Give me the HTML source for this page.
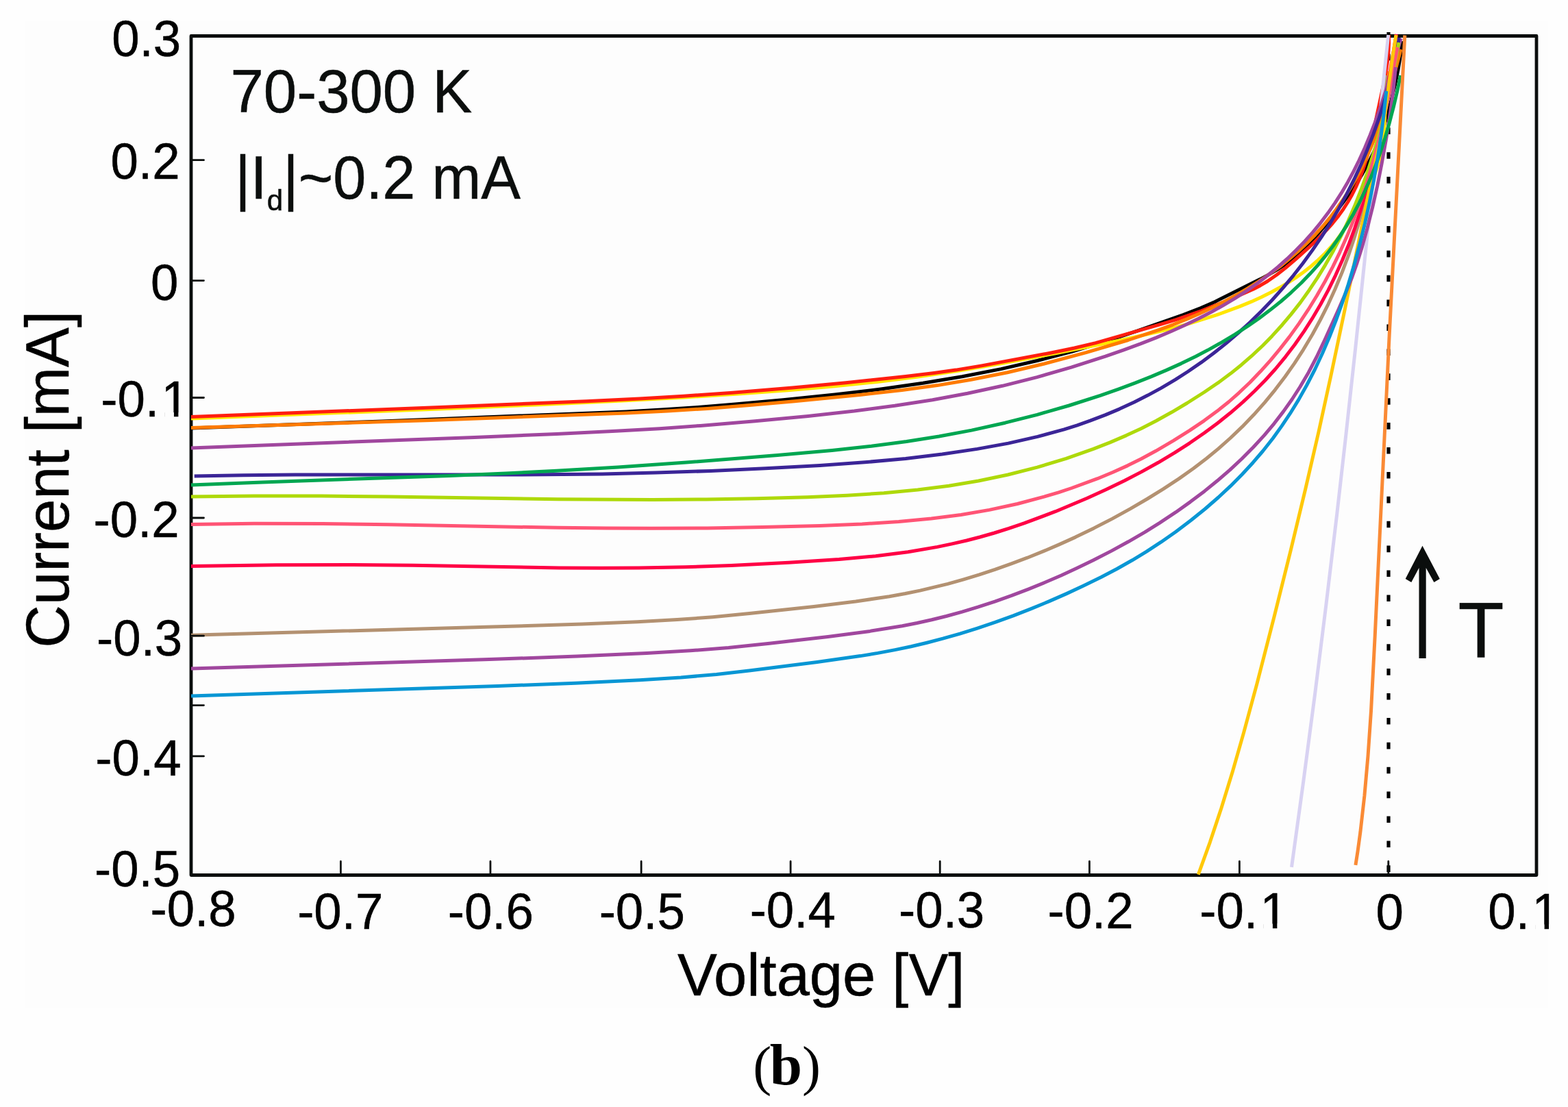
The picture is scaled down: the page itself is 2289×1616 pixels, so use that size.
<!DOCTYPE html>
<html><head><meta charset="utf-8"><title>I-V curves</title>
<style>html,body{margin:0;padding:0;background:#fefefe;overflow:hidden}svg{display:block}</style>
</head><body>
<svg xmlns="http://www.w3.org/2000/svg" width="2289" height="1616" viewBox="0 0 2289 1616"><defs><clipPath id="k1_0"><path clip-rule="evenodd" d="M-20 -90H200V30H-20Z M95.91 -6.20H109.84V2H95.91Z M116.46 -6.20H129.81V2H116.46Z"/></clipPath><clipPath id="k1_1"><path clip-rule="evenodd" d="M-20 -90H200V30H-20Z M95.91 -6.20H109.84V2H95.91Z M116.46 -6.20H129.81V2H116.46Z"/></clipPath><clipPath id="k1_2"><path clip-rule="evenodd" d="M-20 -90H200V30H-20Z M70.97 -6.20H84.90V2H70.97Z M91.52 -6.20H104.86V2H91.52Z"/></clipPath></defs>
<rect x="37" y="30" width="2223" height="1441" fill="#fdfdfd"/>
<rect x="279" y="52.5" width="1964" height="1225" fill="none" stroke="#0b0e0d" stroke-width="4.8" stroke-linejoin="round"/>
<line x1="2027" y1="47" x2="2027" y2="1276" stroke="#000" stroke-width="5.2" stroke-dasharray="9.6 26.3" stroke-dashoffset="4.3"/>
<g fill="none" stroke-width="5" stroke-linecap="butt" stroke-linejoin="round"><path d="M279.0 625.0L558.5 615.0 914.2 600.9 966.0 598.1 1015.9 594.7 1073.6 590.0 1143.2 583.8 1218.7 576.1 1286.0 568.0 1347.3 559.3 1404.5 549.7 1461.4 538.6 1514.1 526.5 1564.5 513.3 1614.4 498.3 1660.0 483.2 1727.3 459.5 1753.1 449.6 1773.2 440.7 1839.6 407.6 1851.7 401.1 1863.6 394.2 1875.1 386.6 1886.4 378.1 1898.7 367.4 1910.4 356.0 1924.2 341.2 1938.2 324.7 1954.0 304.6 1969.3 283.8 1979.5 268.9 1988.9 253.6 1997.7 237.9 2005.6 221.7 2012.6 205.2 2018.8 188.5 2024.7 169.5 2031.0 146.4 2036.7 123.0 2041.1 101.4 2044.7 79.7 2047.0 60.0" stroke="#000000"/><path d="M279.0 611.0L640.5 597.0 782.4 590.9 904.1 585.2 995.9 580.2 1077.6 575.1 1153.3 569.6 1218.9 563.8 1280.5 557.4 1340.1 550.0 1397.5 541.5 1460.8 530.8 1543.5 515.4 1639.2 496.0 1691.5 484.1 1714.6 478.3 1737.6 471.9 1775.7 459.9 1809.8 447.4 1826.7 440.4 1841.4 433.7 1855.9 426.5 1868.2 419.8 1880.3 412.7 1892.0 405.1 1903.3 397.0 1914.1 388.5 1924.5 379.4 1934.4 369.8 1943.7 359.7 1951.2 350.5 1959.4 339.3 1968.2 326.0 1977.5 310.4 1990.6 287.5 1997.3 275.0 2003.4 262.3 2008.0 251.3 2011.9 240.2 2014.5 230.8 2016.5 221.4 2019.3 202.1 2021.0 182.3 2024.1 129.5 2026.5 104.0" stroke="#ffe600"/><path d="M279.0 608.5L642.5 594.5 856.1 585.7 933.9 582.1 997.8 578.3 1069.5 573.2 1157.1 566.0 1234.7 558.8 1322.0 549.4 1363.7 544.4 1395.4 540.1 1433.0 533.9 1533.3 515.2 1568.5 508.0 1599.5 500.6 1695.4 473.2 1716.3 466.9 1753.8 453.8 1796.5 436.8 1829.4 422.3 1840.0 416.7 1850.4 410.5 1863.7 401.3 1876.4 391.4 1891.6 378.4 1912.2 359.8 1925.1 347.6 1936.1 336.3 1945.3 326.0 1954.0 315.1 1961.1 305.2 1967.6 295.0 1973.7 284.4 1979.1 273.6 1984.0 262.7 1988.3 251.6 1992.7 238.6 1996.7 225.4 2005.1 190.8 2019.1 126.0 2023.0 106.2 2025.4 90.4 2026.9 76.6 2027.6 62.8 2027.4 51.0" stroke="#ff1e10"/><path d="M279.0 927.2L718.5 915.1 850.3 910.9 930.5 907.8 988.6 904.6 1040.6 900.7 1096.5 895.3 1188.0 885.4 1249.2 878.0 1298.2 870.7 1321.6 866.5 1343.0 862.1 1383.6 852.4 1406.7 845.9 1429.7 838.9 1452.5 831.4 1477.1 822.7 1499.7 814.2 1524.0 804.4 1546.2 794.9 1570.0 784.1 1597.1 770.9 1623.9 757.1 1650.2 742.6 1674.4 728.5 1698.1 713.9 1721.3 698.6 1742.3 683.8 1761.3 669.3 1778.2 655.4 1796.1 639.5 1813.5 622.9 1830.2 605.6 1846.2 587.6 1861.4 569.1 1875.9 550.0 1889.7 530.4 1902.7 510.3 1916.0 488.0 1927.4 467.0 1939.1 443.8 1949.0 422.0 1959.0 398.0 1968.2 373.7 1976.5 349.0 1984.1 324.1 1991.3 297.1 1997.8 269.8 2003.6 242.3 2009.1 212.7 2014.0 183.1 2018.6 151.4 2024.0 110.0" stroke="#b39171"/><path d="M279.0 826.4L403.3 824.7 515.1 824.4 602.8 825.2 816.3 828.9 876.4 829.3 932.6 829.0 1000.9 827.8 1067.2 825.4 1151.2 821.2 1224.9 816.5 1278.3 811.7 1325.5 805.7 1368.5 798.4 1389.9 793.9 1411.2 789.0 1430.5 784.0 1451.6 778.0 1472.7 771.4 1495.5 763.7 1540.7 746.7 1587.0 727.2 1614.4 714.8 1641.4 701.7 1666.2 688.9 1690.7 675.3 1714.8 660.9 1736.7 646.8 1758.1 632.0 1777.4 617.7 1796.1 602.8 1814.2 587.1 1831.6 570.8 1846.9 555.2 1861.6 539.0 1876.8 520.6 1890.0 503.2 1903.7 483.6 1915.5 465.2 1927.7 444.5 1939.1 423.4 1949.7 401.8 1959.6 379.8 1969.4 355.7 1977.7 333.1 1985.9 308.3 1992.1 287.2 1998.3 264.0 2004.3 238.8 2009.7 213.4 2019.3 162.3 2038.5 50.0" stroke="#ff0045"/><path d="M1885.5 1265.9L1902.7 1141.2 1919.7 1012.4 1935.8 883.5 1951.7 750.5 1964.8 635.3 1978.7 508.2 2026.7 51.0" stroke="#d8d2f2"/><path d="M279.0 624.5L628.7 613.4 914.8 603.0 974.7 600.0 1032.6 596.4 1094.4 591.6 1160.0 585.8 1257.3 576.2 1316.8 569.6 1368.2 562.6 1417.5 554.3 1470.6 543.7 1523.4 531.3 1585.5 514.6 1646.9 496.5 1692.2 481.4 1712.8 473.8 1731.2 466.4 1751.3 457.7 1769.3 449.3 1787.1 440.3 1804.6 430.8 1821.9 420.7 1837.1 411.1 1853.7 399.8 1868.2 389.2 1882.3 377.9 1896.0 366.2 1909.1 353.8 1920.2 342.4 1930.9 330.5 1941.1 318.2 1950.8 305.5 1961.1 290.8 1969.7 277.4 1978.8 261.9 1986.3 247.8 1994.1 231.7 2000.6 217.1 2006.6 202.3 2012.7 185.4 2018.4 168.4 2029.7 130.0 2045.0 72.0" stroke="#ff7b00"/><path d="M279.0 654.0L692.6 638.4 812.7 633.4 898.7 629.3 962.7 625.7 1022.5 621.4 1102.2 614.7 1179.7 607.4 1247.0 600.1 1306.2 592.3 1361.4 583.7 1412.4 574.3 1463.3 563.3 1513.8 550.6 1564.0 536.2 1613.8 520.2 1640.4 510.9 1664.9 501.9 1687.3 493.1 1709.5 483.8 1729.5 474.8 1749.3 465.3 1768.7 455.3 1786.0 445.6 1803.1 435.4 1819.7 424.6 1836.0 413.2 1850.3 402.3 1865.7 389.7 1879.1 377.7 1892.0 365.3 1904.5 352.5 1916.4 339.1 1927.7 325.3 1938.5 311.1 1948.8 296.4 1958.4 281.4 1967.5 265.9 1976.0 250.1 1984.0 234.0 1992.4 215.7 2000.1 197.1 2007.4 178.3 2014.9 157.4 2029.0 113.3 2045.2 56.0" stroke="#a0479e"/><path d="M283.7 695.0L355.4 693.7 431.2 693.0 743.2 693.1 879.4 691.9 957.5 690.1 1037.5 687.4 1117.3 683.8 1197.0 679.4 1262.5 674.8 1322.0 669.4 1375.4 663.0 1426.7 655.4 1471.9 647.1 1514.8 637.4 1553.4 626.8 1572.5 620.8 1591.4 614.2 1613.8 605.6 1634.1 597.1 1655.9 587.0 1675.5 577.1 1694.8 566.6 1715.5 554.4 1734.0 542.5 1753.8 528.9 1771.5 515.8 1790.3 500.9 1807.0 486.7 1824.8 470.6 1841.9 453.8 1857.1 438.0 1873.1 420.1 1888.4 401.8 1901.9 384.5 1916.0 365.1 1929.5 345.3 1942.3 325.1 1954.4 304.4 1965.9 283.4 1976.7 262.0 1986.8 240.2 1996.2 218.2 2004.9 195.8 2012.9 173.2 2020.2 150.3 2026.8 127.2 2032.7 104.0 2037.8 80.5 2042.6 55.0" stroke="#3b2597"/><path d="M279.0 725.0L371.1 723.9 469.0 724.0 566.9 725.0 814.4 728.8 952.6 729.6 1030.7 729.0 1104.8 727.8 1178.7 725.7 1236.5 723.2 1290.2 719.8 1339.7 715.1 1385.1 709.3 1428.4 702.0 1471.4 693.0 1514.2 682.1 1556.4 669.4 1596.1 655.4 1620.4 645.9 1644.3 635.6 1666.1 625.4 1687.5 614.5 1710.4 601.8 1732.8 588.5 1758.0 572.5 1779.2 558.1 1796.7 545.1 1812.1 532.7 1827.1 519.7 1843.1 504.7 1857.1 490.4 1871.8 474.2 1884.7 458.9 1898.3 441.6 1911.1 423.7 1923.3 405.4 1934.8 386.6 1946.7 365.7 1957.7 344.4 1968.0 322.7 1977.6 300.6 1987.1 276.5 1995.3 254.0 2003.4 229.3 2010.8 204.4 2018.1 177.4 2024.7 150.2 2030.7 122.9 2036.5 93.5 2042.0 62.0" stroke="#aed90a"/><path d="M279.0 765.5L371.1 764.3 471.0 764.6 566.8 765.8 814.4 770.3 884.4 771.1 950.5 771.3 1032.6 770.9 1112.7 769.6 1196.6 767.4 1258.4 764.9 1312.0 761.5 1359.5 757.1 1402.9 751.5 1444.2 744.4 1485.3 735.5 1524.1 725.2 1545.3 718.8 1564.4 712.5 1602.1 698.7 1624.3 689.5 1646.3 679.6 1666.1 669.8 1687.3 658.3 1713.2 643.1 1736.7 628.4 1757.9 614.1 1776.9 600.1 1793.9 586.5 1808.8 573.3 1824.7 558.2 1840.0 542.3 1854.8 525.9 1868.9 508.9 1882.4 491.6 1896.4 472.1 1909.7 452.2 1922.3 431.8 1934.2 411.0 1945.4 389.9 1955.9 368.3 1966.5 344.6 1975.6 322.4 1984.8 298.1 1993.1 273.4 2000.8 248.6 2008.4 221.6 2015.3 194.4 2021.5 167.0 2027.6 137.7 2040.0 69.0" stroke="#ff5475"/><path d="M1749.3 1276.7L1766.4 1229.3 1782.9 1179.8 1799.3 1126.4 1815.8 1068.9 1835.0 997.8 1860.3 899.4 1884.4 802.6 1905.9 713.2 1924.8 631.3 1942.7 549.3 1963.7 449.5 1996.5 288.7 2015.0 204.3 2021.8 165.0 2032.7 84.5 2038.0 51.0" stroke="#ffc808"/><path d="M279.0 976.1L714.4 962.6 842.2 958.0 944.0 953.5 1007.8 949.8 1063.6 945.4 1123.3 939.3 1208.7 929.4 1270.0 921.4 1317.2 913.7 1338.7 909.5 1360.1 904.8 1381.4 899.5 1404.6 893.1 1427.6 886.2 1452.3 878.1 1476.8 869.4 1501.2 860.1 1525.3 850.3 1549.2 840.0 1572.8 829.1 1596.1 817.8 1622.7 804.1 1647.1 790.8 1671.2 776.8 1693.2 763.1 1716.5 747.7 1737.7 732.6 1758.5 716.9 1777.1 701.8 1795.3 686.1 1812.8 669.7 1829.7 652.7 1845.9 635.1 1860.0 618.3 1873.4 600.9 1886.1 583.0 1898.0 564.5 1910.1 543.9 1922.1 521.0 1934.1 495.8 1953.1 453.9 1964.3 428.1 1973.3 405.8 1980.6 385.2 1987.8 362.5 1995.8 333.8 2003.6 302.9 2010.6 271.7 2017.2 238.3 2023.9 200.8 2029.7 163.2 2034.2 129.6 2037.5 98.0" stroke="#a0479e"/><path d="M279.0 708.0L382.8 703.9 656.6 694.4 738.5 691.0 812.4 687.3 902.2 681.9 1001.8 675.0 1135.1 664.6 1214.6 657.5 1272.0 651.3 1323.5 644.5 1370.9 637.0 1418.3 628.1 1467.4 617.2 1514.2 605.3 1560.6 592.0 1606.3 577.3 1632.7 568.1 1656.9 559.1 1680.9 549.6 1702.7 540.4 1724.4 530.6 1745.7 520.2 1765.0 510.1 1784.1 499.4 1802.9 488.1 1821.4 476.2 1838.0 464.7 1854.1 452.6 1869.9 440.0 1885.0 426.8 1899.6 413.0 1912.1 400.1 1924.0 386.8 1935.4 373.0 1946.2 358.8 1956.4 344.2 1966.0 329.1 1976.0 311.9 1984.3 296.1 1992.9 278.1 2000.9 259.8 2008.3 241.1 2015.1 222.2 2021.9 201.2 2028.1 180.0 2034.2 156.7 2039.7 133.3 2044.5 110.0" stroke="#00a651"/><path d="M279.0 1016.0L726.2 1001.5 840.0 997.2 933.9 992.8 993.9 989.0 1045.9 984.4 1093.7 979.0 1192.9 966.5 1255.9 957.6 1281.4 953.4 1306.7 948.6 1330.0 943.7 1353.2 938.2 1376.4 932.2 1401.3 925.1 1426.1 917.3 1452.7 908.4 1479.1 898.8 1505.3 888.6 1531.3 877.9 1557.0 866.6 1582.4 854.8 1607.5 842.5 1630.4 830.5 1652.9 817.8 1673.4 805.4 1695.1 791.2 1716.5 776.2 1738.9 759.3 1759.1 743.0 1778.7 726.0 1796.2 709.7 1813.0 692.8 1829.2 675.2 1843.5 658.5 1858.3 639.7 1871.1 621.9 1883.3 603.7 1895.8 583.4 1907.5 562.5 1919.4 539.5 1930.4 516.0 1940.7 492.1 1950.2 467.9 1959.7 441.5 1968.4 414.8 1977.0 386.0 1984.8 357.0 1992.5 326.0 1999.3 294.9 2005.5 263.6 2010.9 232.1 2016.0 198.6 2020.1 166.9 2023.8 133.0" stroke="#0896d4"/><path d="M1978.9 1262.8L1982.0 1243.0 1985.8 1215.2 1991.9 1161.5 1997.0 1103.8 2001.5 1038.1 2007.2 928.4 2028.0 492.9 2050.8 51.5" stroke="#fa8a35"/></g>
<path d="M279 233.7H297.5M279 409.6H297.5M279 580.5H297.5M279 756.0H297.5M279 928.2H297.5M279 1029.6H297.5M279 1103.9H297.5M497.4 1277.5V1257.5M715.9 1277.5V1257.5M936.1 1277.5V1257.5M1154.1 1277.5V1257.5M1372.2 1277.5V1257.5M1590.4 1277.5V1257.5M1809.4 1277.5V1257.5M2026.8 1277.5V1257.5" stroke="#0b0e0d" stroke-width="2.8" stroke-linecap="round" fill="none"/>
<text transform="translate(163.16 81.80) scale(0.9700 1)" font-family="'Liberation Sans',Arial,sans-serif" font-size="74.90" fill="#000" stroke="#000" stroke-width="0.5">0.3</text>
<text transform="translate(161.56 260.60) scale(0.9700 1)" font-family="'Liberation Sans',Arial,sans-serif" font-size="74.90" fill="#000" stroke="#000" stroke-width="0.5">0.2</text>
<text transform="translate(220.06 437.50) scale(0.9700 1)" font-family="'Liberation Sans',Arial,sans-serif" font-size="74.90" fill="#000" stroke="#000" stroke-width="0.5">0</text>
<text clip-path="url(#k1_0)" transform="translate(147.37 608.20) scale(0.9700 1)" font-family="'Liberation Sans',Arial,sans-serif" font-size="74.90" fill="#000" stroke="#000" stroke-width="0.5">-0.<tspan dx="3.6">1</tspan></text>
<text transform="translate(136.57 783.70) scale(0.9700 1)" font-family="'Liberation Sans',Arial,sans-serif" font-size="74.90" fill="#000" stroke="#000" stroke-width="0.5">-0.2</text>
<text transform="translate(141.07 956.50) scale(0.9700 1)" font-family="'Liberation Sans',Arial,sans-serif" font-size="74.90" fill="#000" stroke="#000" stroke-width="0.5">-0.3</text>
<text transform="translate(139.37 1131.80) scale(0.9700 1)" font-family="'Liberation Sans',Arial,sans-serif" font-size="74.90" fill="#000" stroke="#000" stroke-width="0.5">-0.4</text>
<text transform="translate(137.97 1293.60) scale(0.9700 1)" font-family="'Liberation Sans',Arial,sans-serif" font-size="74.90" fill="#000" stroke="#000" stroke-width="0.5">-0.5</text>
<text transform="translate(219.57 1352.20) scale(0.9700 1)" font-family="'Liberation Sans',Arial,sans-serif" font-size="74.90" fill="#000" stroke="#000" stroke-width="0.5">-0.8</text>
<text transform="translate(434.17 1355.60) scale(0.9700 1)" font-family="'Liberation Sans',Arial,sans-serif" font-size="74.90" fill="#000" stroke="#000" stroke-width="0.5">-0.7</text>
<text transform="translate(653.77 1356.10) scale(0.9700 1)" font-family="'Liberation Sans',Arial,sans-serif" font-size="74.90" fill="#000" stroke="#000" stroke-width="0.5">-0.6</text>
<text transform="translate(874.67 1356.10) scale(0.9700 1)" font-family="'Liberation Sans',Arial,sans-serif" font-size="74.90" fill="#000" stroke="#000" stroke-width="0.5">-0.5</text>
<text transform="translate(1094.67 1353.90) scale(0.9700 1)" font-family="'Liberation Sans',Arial,sans-serif" font-size="74.90" fill="#000" stroke="#000" stroke-width="0.5">-0.4</text>
<text transform="translate(1312.07 1353.60) scale(0.9700 1)" font-family="'Liberation Sans',Arial,sans-serif" font-size="74.90" fill="#000" stroke="#000" stroke-width="0.5">-0.3</text>
<text transform="translate(1529.47 1355.20) scale(0.9700 1)" font-family="'Liberation Sans',Arial,sans-serif" font-size="74.90" fill="#000" stroke="#000" stroke-width="0.5">-0.2</text>
<text clip-path="url(#k1_1)" transform="translate(1751.37 1354.70) scale(0.9700 1)" font-family="'Liberation Sans',Arial,sans-serif" font-size="74.90" fill="#000" stroke="#000" stroke-width="0.5">-0.<tspan dx="3.6">1</tspan></text>
<text transform="translate(2008.56 1356.50) scale(0.9700 1)" font-family="'Liberation Sans',Arial,sans-serif" font-size="74.90" fill="#000" stroke="#000" stroke-width="0.5">0</text>
<text clip-path="url(#k1_2)" transform="translate(2172.26 1355.80) scale(0.9700 1)" font-family="'Liberation Sans',Arial,sans-serif" font-size="74.90" fill="#000" stroke="#000" stroke-width="0.5">0.<tspan dx="3.6">1</tspan></text>
<text transform="translate(336.54 163.60) scale(0.9770 1)" font-family="'Liberation Sans',Arial,sans-serif" font-size="88.95" fill="#0b0e0d" stroke="#0b0e0d" stroke-width="0.5">70-300 K</text>
<text fill="#0b0e0d" stroke="#0b0e0d" stroke-width="0.5" transform="translate(343.37 290) scale(0.9770 1)" font-family="'Liberation Sans',Arial,sans-serif" font-size="88.50">|I<tspan font-size="43" dy="16.7">d</tspan><tspan dy="-16.7">|~0.2 mA</tspan></text>
<text transform="translate(989.02 1452.80) scale(0.9910 1)" font-family="'Liberation Sans',Arial,sans-serif" font-size="87.50" fill="#000" stroke="#000" stroke-width="0.5">Voltage [V]</text>
<text stroke="#000" stroke-width="0.5" transform="translate(100.1 945.71) rotate(-90) scale(0.9750 1)" font-family="'Liberation Sans',Arial,sans-serif" font-size="89.00">Current [mA]</text>
<text transform="translate(2128.43 960.20) scale(0.9600 1)" font-family="'Liberation Sans',Arial,sans-serif" font-size="114.40" fill="#0b0e0d" stroke="#0b0e0d" stroke-width="0.5">T</text>
<text x="1099.2" y="1583.3" font-family="'Liberation Serif','Times New Roman',serif" font-size="81">(<tspan font-weight="bold" font-size="85" dx="-2.4">b</tspan>)</text>
<path d="M2076.5 796.7L2101.8 845L2093.4 850L2081.7 829V961H2071.5V829L2060.3 850L2051.7 845Z" fill="#0b0e0d"/></svg>
</body></html>
